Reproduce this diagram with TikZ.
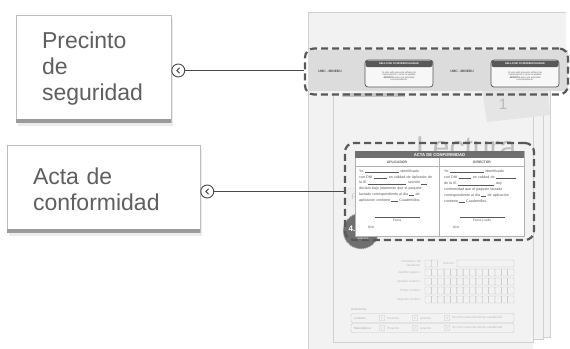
\documentclass[tikz,border=0pt]{standalone}
\usepackage{fontspec}
\setmainfont{Liberation Sans}
\usetikzlibrary{positioning,shadows,calc}
\definecolor{labelgray}{HTML}{5F5F5F}
\definecolor{boxline}{HTML}{BDBDBD}
\definecolor{boxbar}{HTML}{9B9B9B}
\definecolor{markgray}{HTML}{4A4A4A}
\definecolor{pagefill}{HTML}{F2F2F2}
\definecolor{pageline}{HTML}{D0D0D0}
\definecolor{bandfill}{HTML}{DCDCDC}
\definecolor{dashgray}{HTML}{585858}
\definecolor{headgray}{HTML}{6F6F6F}
\definecolor{formgray}{HTML}{C8C8C8}
\newcommand\fillin[1]{\rule[-0.3pt]{#1pt}{0.35pt}}

\begin{document}
\begin{tikzpicture}[
    x=1pt, y=-1pt,
    tagbox/.style={
        rectangle, draw=boxline, fill=white, line width=0.6pt,
        inner sep=0pt, align=left, text=labelgray,
        font=\fontsize{23}{26}\selectfont,
        drop shadow={opacity=0.15, shadow xshift=2pt, shadow yshift=-3pt}
    },
    pointer/.style={
        circle, draw=markgray, fill=white, line width=0.9pt,
        minimum size=13pt, inner sep=0pt,
        path picture={
            \draw[markgray, line width=1.1pt, line cap=round, line join=round]
                ([xshift=1.2pt, yshift=2.6pt]path picture bounding box.center)
                -- ++(-2.6pt,-2.6pt) -- ++(2.6pt,-2.6pt);
        }
    },
    link/.style={draw=markgray, line width=0.9pt},
    dashframe/.style={
        draw=dashgray, line width=2.2pt, dash pattern=on 7pt off 4pt,
        rounded corners=9pt, inner sep=0pt
    },
    tinytxt/.style={inner sep=0pt, font=\fontsize{#1}{#1}\selectfont},
    boldtxt/.style={inner sep=0pt, font=\fontsize{#1}{#1}\selectfont\bfseries},
    formtxt/.style={tinytxt=3, text=gray!55},
    formbold/.style={boldtxt=3, text=gray!55},
    numbox/.style={draw=formgray, rounded corners=0.8pt, minimum size=5.5pt,
        inner sep=0pt, font=\fontsize{3}{3}\selectfont, text=gray!55},
    pics/seal/.style={
        code={
            \draw[dashgray, fill=gray!6, line width=0.7pt, rounded corners=3pt]
                (0,0) rectangle (68,27);
            \fill[dashgray, rounded corners=2pt] (0.5,0.5) rectangle (67.5,7);
            \node[boldtxt=2.6, white] at (34,3.8) {SELLO DE CONFIDENCIALIDAD};
            \node[tinytxt=2.3, align=center, text=gray!75!black] at (34,16.5)
                {Si este sello presenta señales de\\manipulación o se lee la palabra\\
                 \textbf{ABIERTO} avise a la autoridad\\correspondiente.};
        }
    }
    ]
    \useasboundingbox (0,0) rectangle (570,348);

    \foreach \r/\b in {550/337, 543/339}
        \draw[pageline, fill=pagefill] (308,60) rectangle (\r,\b);
    \fill[pagefill] (308,12) rectangle (533,349);
    \fill[pagefill] (308,12) rectangle (566,60);
    \draw[pageline] (308,349) -- (308,12) -- (566,12);
    \draw[pageline] (333,95) -- (333,342) -- (533,342) -- (533,95);

    \fill[gray!20] (482,90) -- (548,90) -- (550,115) -- (487,122) -- cycle;
    \node[tinytxt=15, text=gray!55] (tabnum) at (503,104) {1};

    \fill[bandfill] (308,50) rectangle (568,91);
    \foreach \x in {330,462}
        \node[boldtxt=3.3, text=gray!60!black] at (\x,71) {UMC - MINEDU};
    \pic at (365,60) {seal};
    \pic at (491,60) {seal};
    \fill[gray!45] (342,93) rectangle (405,97);
    \node[dashframe, minimum width=263pt, minimum height=46pt] (band) at (436.5,71.5) {};

    \node[anchor=base west, inner sep=0pt, text=gray!50,
        font=\fontsize{30}{30}\selectfont] (title) at (416,157) {Lectura};

    \node[fill=gray!12, draw=gray!25, rounded corners=1pt, minimum width=12pt,
        minimum height=17pt, tinytxt=8, text=gray!45] (pbox) at (354,197) {P};
    \node[circle, fill=headgray, draw=gray!30, densely dotted, line width=1pt,
        minimum size=36pt] (grade) at (361,231) {};
    \node[boldtxt=8, white] at (352,229) {4.};
    \node[tinytxt=3, white] at (363,239) {primaria};

    \node[dashframe, minimum width=189pt, minimum height=97pt] (actaframe) at (439.5,191.5) {};

    \node[draw=gray!60, fill=white, minimum width=169pt, minimum height=85pt,
        inner sep=0pt] (card) at (439.5,193.5) {};
    \fill[headgray] (355,151) rectangle (524,158);
    \node[boldtxt=4.2, white] at (439.5,154.6) {ACTA DE CONFORMIDAD};
    \node[boldtxt=3.4, text=gray!70!black] at (397,162.2) {APLICADOR};
    \node[boldtxt=3.4, text=gray!70!black] at (482,162.2) {DIRECTOR};
    \draw[gray!60] (355,166) -- (524,166);
    \draw[gray!60] (439.5,158) -- (439.5,236);
    \node[anchor=north west, inner sep=0pt, text width=78pt, align=left, text=gray!70!black,
        font=\fontsize{3.6}{5.8}\selectfont] (aplic) at (359,169.5)
        {Yo, \fillin{34} identificado\\
         con DNI \fillin{13}, en calidad de Aplicador de\\
         la IE \fillin{38}, sección \fillin{6},\\
         declaro bajo juramento que el paquete\\
         lacrado correspondiente al día \fillin{5} de\\
         aplicación contiene \fillin{7} Cuadernillos.};
    \node[anchor=north west, inner sep=0pt, text width=78pt, align=left, text=gray!70!black,
        font=\fontsize{3.6}{5.8}\selectfont] (direc) at (444,169.5)
        {Yo, \fillin{34} identificado\\
         con DNI \fillin{12}, en calidad de \fillin{20}\\[1pt]
         de la IE \fillin{36}, doy\\
         conformidad que el paquete lacrado\\
         correspondiente al día \fillin{5} de aplicación\\
         contiene \fillin{6} Cuadernillos.};
    \draw[gray!70!black, line width=0.4pt] (375,217) -- (420,217);
    \draw[gray!70!black, line width=0.4pt] (460,217) -- (505,217);
    \node[tinytxt=3.2, text=gray!70!black] at (397,220.5) {Firma};
    \node[tinytxt=3.2, text=gray!70!black] at (482,220.5) {Firma y sello};
    \node[tinytxt=3.2, text=gray!70!black, anchor=west] at (368,227.5) {DNI:};
    \node[tinytxt=3.2, text=gray!70!black, anchor=west] at (453,227.5) {DNI:};

    \node[formtxt, anchor=east, align=right, font=\fontsize{3}{3.6}\selectfont]
        at (421,263.5) {Correlativo del\\estudiante:};
    \foreach \i in {0,1}
        \draw[formgray, rounded corners=0.8pt] (425+\i*6.2,260) rectangle ++(6.2,7);
    \node[formtxt, anchor=east] at (455,263.5) {Sección:};
    \draw[formgray, rounded corners=1pt] (457,260) rectangle (514,267);
    \foreach \lab [count=\k] in {Apellido paterno:, Apellido materno:, Primer nombre:, Segundo nombre:} {
        \node[formtxt, anchor=east] at (421,263.5+\k*9) {\lab};
        \foreach \i in {0,...,13}
            \draw[formgray, rounded corners=0.6pt] (425+\i*6.36,260+\k*9) rectangle ++(6.36,7);
    }
    \node[formbold, anchor=west] at (351,309) {Asistencia};
    \foreach \lab/\y in {Lectura:/318, Matemática:/328} {
        \draw[formgray, rounded corners=2pt] (351,\y-4.5) rectangle (514,\y+4.5);
        \node[formbold, anchor=west] at (354,\y) {\lab};
        \foreach \n/\x/\t in {1/382/Presente, 2/415/Ausente, 3/447/Se retiró antes del tiempo establecido} {
            \node[numbox] at (\x,\y) {\n};
            \node[formtxt, anchor=west] at (\x+5,\y) {\t};
        }
    }

    \node[tagbox, minimum width=155pt, minimum height=107pt, text width=103pt]
        (precinto) at (93.5,69) {Precinto\\de\\seguridad};
    \fill[boxbar] ($(precinto.south west)+(0,-4)$) rectangle (precinto.south east);
    \node[tagbox, minimum width=193pt, minimum height=87pt, text width=141pt]
        (acta) at (103.5,189) {Acta de\\conformidad};
    \fill[boxbar] ($(acta.south west)+(0,-4)$) rectangle (acta.south east);

    \node[pointer, right=0pt of precinto, yshift=-1.5pt] (precintoptr) {};
    \node[pointer, right=0pt of acta, yshift=-2.5pt] (actaptr) {};
    \draw[link] (precintoptr) -- (precintoptr -| band.west);
    \draw[link] (actaptr) -- (actaptr -| actaframe.west);
\end{tikzpicture}
\end{document}
